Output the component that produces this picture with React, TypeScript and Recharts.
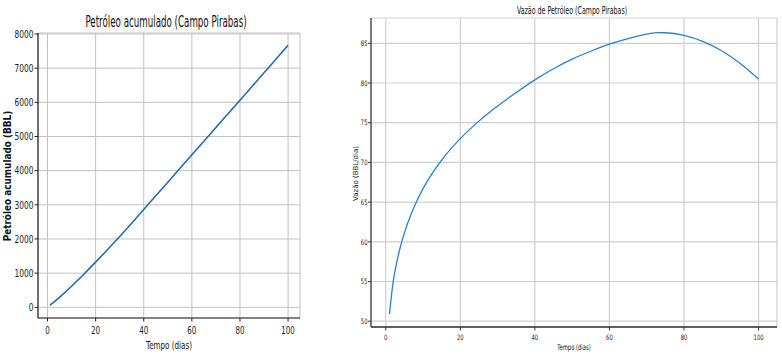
import { CartesianGrid, Line, LineChart, XAxis, YAxis } from "recharts";

// dias de produção
const tempo = [1, 2, 3, 4, 5, 6, 8, 10, 13, 15, 20, 25, 30, 35, 40, 45, 50, 55, 60, 65, 70, 73, 75, 80, 85, 90, 95, 100];
// petróleo acumulado (BBL)
const acumulado = [60, 115, 172, 231, 292, 355, 484, 617, 822, 962, 1322, 1692, 2072, 2462, 2862, 3262, 3662, 4062, 4462, 4862, 5262, 5502, 5662, 6062, 6462, 6862, 7266, 7670];
// vazão de petróleo (BBL/dia)
const vazao = [50.9, 55.0, 57.5, 59.5, 61.1, 62.5, 64.8, 66.7, 69.0, 70.3, 73.0, 75.2, 77.1, 78.8, 80.4, 81.8, 83.0, 84.0, 84.9, 85.6, 86.15, 86.35, 86.33, 86.0, 85.25, 84.1, 82.5, 80.5];

const xTicks = [0, 20, 40, 60, 80, 100];
const acumTicks = [0, 1000, 2000, 3000, 4000, 5000, 6000, 7000, 8000];
const vazaoTicks = [50, 55, 60, 65, 70, 75, 80, 85];

const data = tempo.map((t, i) => ({ t, acum: acumulado[i], vazao: vazao[i] }));

const FONT = "DejaVu Sans";
const X_DOMAIN: [number, number] = [-3.95, 104.95];

/** Texto comprimido na horizontal, como no gráfico original. */
function squishTick(fontSize: number, sx: number, anchor: "middle" | "end", dy: number) {
  return (props: any) => {
    const { x, y, payload } = props;
    return (
      <text
        transform={`translate(${x},${y + dy}) scale(${sx},1)`}
        textAnchor={anchor}
        fontSize={fontSize}
        fontFamily={FONT}
        fill="#222"
      >
        {payload.value}
      </text>
    );
  };
}

function Label({ x, y, size, sx, text, rotate = false, bold = false }: {
  x: number; y: number; size: number; sx: number; text: string; rotate?: boolean; bold?: boolean;
}) {
  const tr = rotate
    ? `translate(${x},${y}) rotate(-90) scale(${sx},1)`
    : `translate(${x},${y}) scale(${sx},1)`;
  return (
    <text transform={tr} textAnchor="middle" fontSize={size} fontFamily={FONT} fontWeight={bold ? "bold" : "normal"} fill="#111">
      {text}
    </text>
  );
}

function AcumuladoChart() {
  return (
    <LineChart width={330} height={363} data={data} margin={{ top: 33, right: 30, left: 0, bottom: 0 }}>
      <CartesianGrid stroke="#c2c2c2" strokeWidth={1} />
      <XAxis
        dataKey="t"
        type="number"
        domain={X_DOMAIN}
        ticks={xTicks}
        allowDataOverflow
        height={45}
        tickSize={3.5}
        tickMargin={0}
        tick={squishTick(10.5, 0.68, "middle", 12.5)}
        axisLine={{ stroke: "#222", strokeWidth: 1.2 }}
        tickLine={{ stroke: "#222" }}
      />
      <XAxis xAxisId="top" orientation="top" dataKey="t" type="number" domain={X_DOMAIN} height={0} tick={false} tickLine={false} axisLine={{ stroke: "#222", strokeWidth: 1.8 }} />
      <YAxis
        type="number"
        domain={[-313, 8029]}
        ticks={acumTicks}
        allowDataOverflow
        width={38}
        tickSize={3.5}
        tickMargin={1}
        tick={squishTick(10.5, 0.71, "end", 3.8)}
        axisLine={{ stroke: "#222", strokeWidth: 1.2 }}
        tickLine={{ stroke: "#222" }}
      />
      <YAxis yAxisId="right" orientation="right" domain={[-313, 8029]} width={0} tick={false} tickLine={false} axisLine={{ stroke: "#222", strokeWidth: 1.2 }} />
      <Line type="monotone" dataKey="acum" stroke="#1f66ad" strokeWidth={1.5} dot={false} isAnimationActive={false} />
    </LineChart>
  );
}

function VazaoChart() {
  return (
    <LineChart width={452} height={363} data={data} margin={{ top: 18, right: 5, left: 0, bottom: 0 }}>
      <CartesianGrid stroke="#cfcfcf" strokeWidth={1.2} />
      <XAxis
        dataKey="t"
        type="number"
        domain={X_DOMAIN}
        ticks={xTicks}
        allowDataOverflow
        height={36}
        tickSize={3.5}
        tickMargin={0}
        tick={squishTick(7.5, 0.7, "middle", 9)}
        axisLine={{ stroke: "#333", strokeWidth: 1.6 }}
        tickLine={{ stroke: "#333" }}
      />
      <XAxis xAxisId="top" orientation="top" dataKey="t" type="number" domain={X_DOMAIN} height={0} tick={false} tickLine={false} axisLine={{ stroke: "#444", strokeWidth: 1.2 }} />
      <YAxis
        type="number"
        domain={[49.27, 88.19]}
        ticks={vazaoTicks}
        allowDataOverflow
        width={41}
        tickSize={3}
        tickMargin={0.5}
        tick={squishTick(7.5, 0.7, "end", 2.7)}
        axisLine={{ stroke: "#333", strokeWidth: 1.2 }}
        tickLine={{ stroke: "#333" }}
      />
      <YAxis yAxisId="right" orientation="right" domain={[49.27, 88.19]} width={0} tick={false} tickLine={false} axisLine={{ stroke: "#444", strokeWidth: 1.2 }} />
      <Line type="monotone" dataKey="vazao" stroke="#2582cf" strokeWidth={1.3} dot={false} isAnimationActive={false} />
    </LineChart>
  );
}

export default function App() {
  return (
    <div style={{ position: "absolute", left: 0, top: 0, width: 782, height: 363, background: "#fff" }}>
      <div style={{ position: "absolute", left: 0, top: 0 }}>
        <AcumuladoChart />
      </div>
      <div style={{ position: "absolute", left: 330, top: 0 }}>
        <VazaoChart />
      </div>
      <svg width={782} height={363} style={{ position: "absolute", left: 0, top: 0, pointerEvents: "none" }}>
        <Label x={166} y={26.5} size={15} sx={0.58} text="Petróleo acumulado (Campo Pirabas)" />
        <Label x={169} y={349} size={11} sx={0.65} text="Tempo (dias)" />
        <Label x={10.5} y={176} size={10} sx={0.89} bold rotate text="Petróleo acumulado (BBL)" />
        <Label x={572} y={13.5} size={10.5} sx={0.6} text="Vazão de Petróleo (Campo Pirabas)" />
        <Label x={574} y={350} size={8} sx={0.65} text="Tempo (dias)" />
        <Label x={357.5} y={173.5} size={7} sx={1} rotate text="Vazão (BBL/dia)" />
      </svg>
    </div>
  );
}
